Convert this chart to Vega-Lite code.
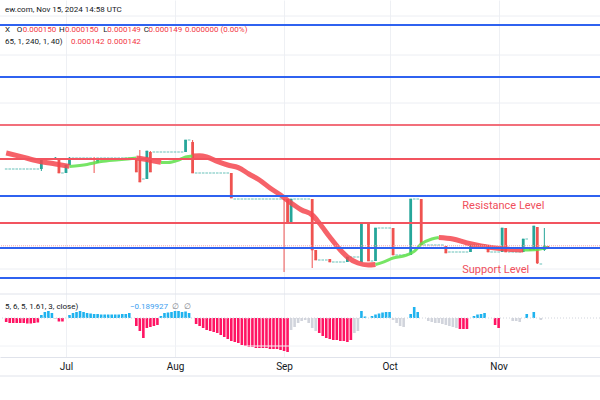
{
  "$schema": "https://vega.github.io/schema/vega-lite/v6.json",
  "autosize": {"type": "none"},
  "padding": {"left": 0, "top": 0, "right": 0, "bottom": 43},
  "background": "white",
  "width": 600,
  "height": 357,
  "config": {"view": {"stroke": null}, "font": "Roboto"},
  "resolve": {"scale": {"y": "independent"}},
  "datasets": {
    "candles": [
      {"d":"2024-06-14","o":188,"h":188,"l":188,"c":188},
      {"d":"2024-06-15","o":188,"h":188,"l":188,"c":188},
      {"d":"2024-06-16","o":188,"h":188,"l":188,"c":188},
      {"d":"2024-06-17","o":188,"h":188,"l":188,"c":188},
      {"d":"2024-06-18","o":188,"h":188,"l":188,"c":188},
      {"d":"2024-06-19","o":188,"h":188,"l":188,"c":188},
      {"d":"2024-06-20","o":188,"h":188,"l":188,"c":188},
      {"d":"2024-06-21","o":188,"h":188,"l":188,"c":188},
      {"d":"2024-06-22","o":188,"h":188,"l":188,"c":188},
      {"d":"2024-06-23","o":188,"h":188,"l":188,"c":188},
      {"d":"2024-06-24","o":188,"h":193,"l":187,"c":193},
      {"d":"2024-06-25","o":193,"h":193,"l":193,"c":193},
      {"d":"2024-06-26","o":193,"h":193,"l":193,"c":193},
      {"d":"2024-06-27","o":193,"h":193,"l":193,"c":193},
      {"d":"2024-06-28","o":193,"h":194,"l":193,"c":193.5},
      {"d":"2024-06-29","o":193.5,"h":193.5,"l":186,"c":186},
      {"d":"2024-06-30","o":186,"h":186,"l":186,"c":186},
      {"d":"2024-07-01","o":186,"h":190,"l":186,"c":190},
      {"d":"2024-07-02","o":190,"h":194,"l":190,"c":193.5},
      {"d":"2024-07-03","o":193.5,"h":193.5,"l":193.5,"c":193.5},
      {"d":"2024-07-04","o":193.5,"h":193.5,"l":193.5,"c":193.5},
      {"d":"2024-07-05","o":193.5,"h":193.5,"l":193.5,"c":193.5},
      {"d":"2024-07-06","o":193.5,"h":193.5,"l":193.5,"c":193.5},
      {"d":"2024-07-07","o":193.5,"h":193.5,"l":193.5,"c":193.5},
      {"d":"2024-07-08","o":193.5,"h":193.5,"l":193.5,"c":193.5},
      {"d":"2024-07-09","o":193.5,"h":194,"l":186,"c":193},
      {"d":"2024-07-10","o":191,"h":193.5,"l":191,"c":193.5},
      {"d":"2024-07-11","o":193.5,"h":193.5,"l":193.5,"c":193.5},
      {"d":"2024-07-12","o":193.5,"h":193.5,"l":193.5,"c":193.5},
      {"d":"2024-07-13","o":193.5,"h":193.5,"l":193.5,"c":193.5},
      {"d":"2024-07-14","o":193.5,"h":193.5,"l":193.5,"c":193.5},
      {"d":"2024-07-15","o":193.5,"h":193.5,"l":193.5,"c":193.5},
      {"d":"2024-07-16","o":193.5,"h":193.5,"l":193.5,"c":193.5},
      {"d":"2024-07-17","o":193.5,"h":193.5,"l":193.5,"c":193.5},
      {"d":"2024-07-18","o":193.5,"h":193.5,"l":193.5,"c":193.5},
      {"d":"2024-07-19","o":193.5,"h":193.5,"l":193.5,"c":193.5},
      {"d":"2024-07-20","o":193.5,"h":193.5,"l":193.5,"c":193.5},
      {"d":"2024-07-21","o":193.5,"h":193.5,"l":186.5,"c":186.5},
      {"d":"2024-07-22","o":193.5,"h":197.5,"l":181.5,"c":181.5},
      {"d":"2024-07-23","o":183,"h":183,"l":183,"c":183},
      {"d":"2024-07-24","o":183,"h":197,"l":183,"c":197},
      {"d":"2024-07-25","o":196.5,"h":197,"l":186.5,"c":186.5},
      {"d":"2024-07-26","o":196.5,"h":196.5,"l":196.5,"c":196.5},
      {"d":"2024-07-27","o":196.5,"h":196.5,"l":196.5,"c":196.5},
      {"d":"2024-07-28","o":196.5,"h":196.5,"l":196.5,"c":196.5},
      {"d":"2024-07-29","o":196.5,"h":196.5,"l":196.5,"c":196.5},
      {"d":"2024-07-30","o":196.5,"h":196.5,"l":196.5,"c":196.5},
      {"d":"2024-07-31","o":196.5,"h":196.5,"l":196.5,"c":196.5},
      {"d":"2024-08-01","o":196.5,"h":196.5,"l":196.5,"c":196.5},
      {"d":"2024-08-02","o":196.5,"h":196.5,"l":196.5,"c":196.5},
      {"d":"2024-08-03","o":196.5,"h":196.5,"l":196.5,"c":196.5},
      {"d":"2024-08-04","o":196.5,"h":202.5,"l":196.5,"c":202.5},
      {"d":"2024-08-05","o":202.5,"h":202.5,"l":202.5,"c":202.5},
      {"d":"2024-08-06","o":201.5,"h":202.5,"l":186,"c":186},
      {"d":"2024-08-07","o":186,"h":186,"l":186,"c":186},
      {"d":"2024-08-08","o":186,"h":186,"l":186,"c":186},
      {"d":"2024-08-09","o":186,"h":186,"l":186,"c":186},
      {"d":"2024-08-10","o":186,"h":186,"l":186,"c":186},
      {"d":"2024-08-11","o":186,"h":186,"l":186,"c":186},
      {"d":"2024-08-12","o":186,"h":186,"l":186,"c":186},
      {"d":"2024-08-13","o":186,"h":186,"l":186,"c":186},
      {"d":"2024-08-14","o":186,"h":186,"l":186,"c":186},
      {"d":"2024-08-15","o":186,"h":186,"l":186,"c":186},
      {"d":"2024-08-16","o":186,"h":186,"l":186,"c":186},
      {"d":"2024-08-17","o":186,"h":186,"l":173.5,"c":173.5},
      {"d":"2024-08-18","o":173,"h":173,"l":173,"c":173},
      {"d":"2024-08-19","o":173,"h":173,"l":173,"c":173},
      {"d":"2024-08-20","o":173,"h":173,"l":173,"c":173},
      {"d":"2024-08-21","o":173,"h":173,"l":173,"c":173},
      {"d":"2024-08-22","o":173,"h":173,"l":173,"c":173},
      {"d":"2024-08-23","o":173,"h":173,"l":173,"c":173},
      {"d":"2024-08-24","o":173,"h":173,"l":173,"c":173},
      {"d":"2024-08-25","o":173,"h":173,"l":173,"c":173},
      {"d":"2024-08-26","o":173,"h":173,"l":173,"c":173},
      {"d":"2024-08-27","o":173,"h":173,"l":173,"c":173},
      {"d":"2024-08-28","o":173,"h":173,"l":173,"c":173},
      {"d":"2024-08-29","o":173,"h":173,"l":173,"c":173},
      {"d":"2024-08-30","o":173,"h":173,"l":173,"c":173},
      {"d":"2024-08-31","o":173,"h":173,"l":173,"c":173},
      {"d":"2024-09-01","o":173,"h":173,"l":136.5,"c":172.8},
      {"d":"2024-09-02","o":173,"h":173,"l":161,"c":161},
      {"d":"2024-09-03","o":161,"h":173,"l":161,"c":173},
      {"d":"2024-09-04","o":173,"h":173,"l":173,"c":173},
      {"d":"2024-09-05","o":173,"h":173,"l":173,"c":173},
      {"d":"2024-09-06","o":173,"h":173,"l":173,"c":173},
      {"d":"2024-09-07","o":173,"h":173,"l":173,"c":173},
      {"d":"2024-09-08","o":173,"h":173,"l":173,"c":173},
      {"d":"2024-09-09","o":173,"h":173,"l":138.5,"c":147.5},
      {"d":"2024-09-10","o":147.5,"h":147.5,"l":142.5,"c":142.5},
      {"d":"2024-09-11","o":142.5,"h":142.5,"l":142.5,"c":142.5},
      {"d":"2024-09-12","o":142.5,"h":142.5,"l":142.5,"c":142.5},
      {"d":"2024-09-13","o":142.5,"h":142.5,"l":142.5,"c":142.5},
      {"d":"2024-09-14","o":143,"h":143,"l":141.5,"c":141.5},
      {"d":"2024-09-15","o":141.5,"h":141.5,"l":141.5,"c":141.5},
      {"d":"2024-09-16","o":141.5,"h":141.5,"l":141.5,"c":141.5},
      {"d":"2024-09-17","o":141.5,"h":141.5,"l":141.5,"c":141.5},
      {"d":"2024-09-18","o":141.5,"h":141.5,"l":141.5,"c":141.5},
      {"d":"2024-09-19","o":141.5,"h":144,"l":141.5,"c":144},
      {"d":"2024-09-20","o":144,"h":144,"l":144,"c":144},
      {"d":"2024-09-21","o":144,"h":144,"l":144,"c":144},
      {"d":"2024-09-22","o":144,"h":144,"l":144,"c":144},
      {"d":"2024-09-23","o":141.5,"h":161,"l":141.5,"c":161},
      {"d":"2024-09-24","o":161,"h":161,"l":161,"c":161},
      {"d":"2024-09-25","o":161,"h":161,"l":142,"c":142},
      {"d":"2024-09-26","o":142,"h":142,"l":142,"c":142},
      {"d":"2024-09-27","o":142,"h":158.5,"l":142,"c":158.5},
      {"d":"2024-09-28","o":158.5,"h":158.5,"l":158.5,"c":158.5},
      {"d":"2024-09-29","o":158.5,"h":158.5,"l":158.5,"c":158.5},
      {"d":"2024-09-30","o":158.5,"h":158.5,"l":158.5,"c":158.5},
      {"d":"2024-10-01","o":158.5,"h":158.5,"l":158.5,"c":158.5},
      {"d":"2024-10-02","o":158.5,"h":158.5,"l":145,"c":145},
      {"d":"2024-10-03","o":145,"h":145,"l":145,"c":145},
      {"d":"2024-10-04","o":145,"h":145,"l":145,"c":145},
      {"d":"2024-10-05","o":145,"h":145,"l":145,"c":145},
      {"d":"2024-10-06","o":145,"h":145,"l":145,"c":145},
      {"d":"2024-10-07","o":145,"h":173,"l":145,"c":173},
      {"d":"2024-10-08","o":173,"h":173,"l":173,"c":173},
      {"d":"2024-10-09","o":173,"h":173,"l":173,"c":173},
      {"d":"2024-10-10","o":173,"h":173,"l":150,"c":150},
      {"d":"2024-10-11","o":150,"h":150,"l":150,"c":150},
      {"d":"2024-10-12","o":150,"h":150,"l":150,"c":150},
      {"d":"2024-10-13","o":150,"h":150,"l":150,"c":150},
      {"d":"2024-10-14","o":150,"h":150,"l":150,"c":150},
      {"d":"2024-10-15","o":150,"h":150,"l":150,"c":150},
      {"d":"2024-10-16","o":150,"h":150,"l":150,"c":150},
      {"d":"2024-10-17","o":149.5,"h":149.5,"l":146,"c":146},
      {"d":"2024-10-18","o":146.5,"h":146.5,"l":146.5,"c":146.5},
      {"d":"2024-10-19","o":146.5,"h":146.5,"l":146.5,"c":146.5},
      {"d":"2024-10-20","o":146.5,"h":146.5,"l":146.5,"c":146.5},
      {"d":"2024-10-21","o":146.5,"h":146.5,"l":146.5,"c":146.5},
      {"d":"2024-10-22","o":146.5,"h":146.5,"l":146.5,"c":146.5},
      {"d":"2024-10-23","o":146.5,"h":146.5,"l":146.5,"c":146.5},
      {"d":"2024-10-24","o":146.5,"h":150,"l":146.5,"c":150},
      {"d":"2024-10-25","o":150,"h":150,"l":150,"c":150},
      {"d":"2024-10-26","o":150,"h":150,"l":150,"c":150},
      {"d":"2024-10-27","o":150,"h":150,"l":150,"c":150},
      {"d":"2024-10-28","o":150,"h":150,"l":150,"c":150},
      {"d":"2024-10-29","o":150,"h":150,"l":146.5,"c":146.5},
      {"d":"2024-10-30","o":146.5,"h":146.5,"l":146.5,"c":146.5},
      {"d":"2024-10-31","o":146.5,"h":146.5,"l":146.5,"c":146.5},
      {"d":"2024-11-01","o":146.5,"h":146.5,"l":146.5,"c":146.5},
      {"d":"2024-11-02","o":146.5,"h":158.5,"l":146.5,"c":158.5},
      {"d":"2024-11-03","o":158.5,"h":158.5,"l":146.5,"c":146.5},
      {"d":"2024-11-04","o":146.5,"h":146.5,"l":146.5,"c":146.5},
      {"d":"2024-11-05","o":146.5,"h":146.5,"l":146.5,"c":146.5},
      {"d":"2024-11-06","o":146.5,"h":146.5,"l":146.5,"c":146.5},
      {"d":"2024-11-07","o":146.5,"h":146.5,"l":146.5,"c":146.5},
      {"d":"2024-11-08","o":146.5,"h":153,"l":146.5,"c":153},
      {"d":"2024-11-09","o":153,"h":153,"l":153,"c":153},
      {"d":"2024-11-10","o":148.5,"h":148.5,"l":147.5,"c":147.5},
      {"d":"2024-11-11","o":147.5,"h":159.5,"l":147.5,"c":159.5},
      {"d":"2024-11-12","o":159,"h":159,"l":140.5,"c":141},
      {"d":"2024-11-13","o":140.5,"h":140.5,"l":140.5,"c":140.5},
      {"d":"2024-11-14","o":147.5,"h":158.5,"l":147,"c":149.5},
      {"d":"2024-11-15","o":149.5,"h":149.5,"l":149,"c":149}
    ],
    "ma": [
      {"d":"2024-06-14","p":196,"s":"A","t":"r"},
      {"d":"2024-06-18","p":194.3,"s":"A","t":"r"},
      {"d":"2024-06-23","p":192,"s":"A","t":"r"},
      {"d":"2024-06-28","p":190.5,"s":"A","t":"r"},
      {"d":"2024-07-02","p":189.3,"s":"A","t":"r"},
      {"d":"2024-07-02","p":189.3,"s":"B","t":"g"},
      {"d":"2024-07-07","p":190.3,"s":"B","t":"g"},
      {"d":"2024-07-11","p":191.7,"s":"B","t":"g"},
      {"d":"2024-07-16","p":192.6,"s":"B","t":"g"},
      {"d":"2024-07-21","p":193.5,"s":"B","t":"g"},
      {"d":"2024-07-21","p":193.5,"s":"C","t":"r"},
      {"d":"2024-07-23","p":193,"s":"C","t":"r"},
      {"d":"2024-07-26","p":192,"s":"C","t":"r"},
      {"d":"2024-07-28","p":191.3,"s":"C","t":"r"},
      {"d":"2024-07-28","p":191.3,"s":"D","t":"g"},
      {"d":"2024-07-30","p":191.2,"s":"D","t":"g"},
      {"d":"2024-08-02","p":192.5,"s":"D","t":"g"},
      {"d":"2024-08-04","p":194,"s":"D","t":"g"},
      {"d":"2024-08-06","p":194.5,"s":"D","t":"g"},
      {"d":"2024-08-06","p":194.5,"s":"E","t":"r"},
      {"d":"2024-08-08","p":194.6,"s":"E","t":"r"},
      {"d":"2024-08-10","p":194,"s":"E","t":"r"},
      {"d":"2024-08-13","p":191.8,"s":"E","t":"r"},
      {"d":"2024-08-16","p":190,"s":"E","t":"r"},
      {"d":"2024-08-19","p":188.7,"s":"E","t":"r"},
      {"d":"2024-08-22","p":185.5,"s":"E","t":"r"},
      {"d":"2024-08-25","p":182.5,"s":"E","t":"r"},
      {"d":"2024-08-28","p":178.5,"s":"E","t":"r"},
      {"d":"2024-08-31","p":175,"s":"E","t":"r"},
      {"d":"2024-09-03","p":171,"s":"E","t":"r"},
      {"d":"2024-09-06","p":167.5,"s":"E","t":"r"},
      {"d":"2024-09-09","p":165,"s":"E","t":"r"},
      {"d":"2024-09-11","p":161,"s":"E","t":"r"},
      {"d":"2024-09-14","p":154,"s":"E","t":"r"},
      {"d":"2024-09-17","p":147.5,"s":"E","t":"r"},
      {"d":"2024-09-19","p":144,"s":"E","t":"r"},
      {"d":"2024-09-22","p":141,"s":"E","t":"r"},
      {"d":"2024-09-25","p":140,"s":"E","t":"r"},
      {"d":"2024-09-27","p":140.25,"s":"E","t":"r"},
      {"d":"2024-09-27","p":140.25,"s":"F","t":"g"},
      {"d":"2024-09-29","p":141.3,"s":"F","t":"g"},
      {"d":"2024-10-02","p":143.5,"s":"F","t":"g"},
      {"d":"2024-10-05","p":144.5,"s":"F","t":"g"},
      {"d":"2024-10-08","p":146.8,"s":"F","t":"g"},
      {"d":"2024-10-10","p":150.5,"s":"F","t":"g"},
      {"d":"2024-10-13","p":153,"s":"F","t":"g"},
      {"d":"2024-10-15","p":153.75,"s":"F","t":"g"},
      {"d":"2024-10-15","p":153.75,"s":"G","t":"r"},
      {"d":"2024-10-19","p":153,"s":"G","t":"r"},
      {"d":"2024-10-23","p":151,"s":"G","t":"r"},
      {"d":"2024-10-27","p":149.5,"s":"G","t":"r"},
      {"d":"2024-10-31","p":148.5,"s":"G","t":"r"},
      {"d":"2024-11-05","p":147.75,"s":"G","t":"r"},
      {"d":"2024-11-08","p":147.5,"s":"G","t":"r"},
      {"d":"2024-11-08","p":147.5,"s":"H","t":"g"},
      {"d":"2024-11-12","p":147.75,"s":"H","t":"g"},
      {"d":"2024-11-14","p":148.5,"s":"H","t":"g"},
      {"d":"2024-11-15","p":148.7,"s":"H","t":"g"}
    ],
    "osc": [
      {"d":"2024-06-14","v":-0.04,"k":"r"},
      {"d":"2024-06-15","v":-0.05,"k":"r"},
      {"d":"2024-06-16","v":-0.05,"k":"r"},
      {"d":"2024-06-17","v":-0.05,"k":"r"},
      {"d":"2024-06-18","v":-0.05,"k":"r"},
      {"d":"2024-06-19","v":-0.05,"k":"r"},
      {"d":"2024-06-20","v":-0.055,"k":"r"},
      {"d":"2024-06-21","v":-0.055,"k":"r"},
      {"d":"2024-06-22","v":-0.05,"k":"r"},
      {"d":"2024-06-23","v":-0.045,"k":"r"},
      {"d":"2024-06-24","v":0.03,"k":"b"},
      {"d":"2024-06-25","v":0.06,"k":"b"},
      {"d":"2024-06-26","v":0.07,"k":"b"},
      {"d":"2024-06-27","v":0.05,"k":"b"},
      {"d":"2024-06-28","v":-0.01,"k":"g"},
      {"d":"2024-06-29","v":-0.035,"k":"r"},
      {"d":"2024-06-30","v":-0.035,"k":"r"},
      {"d":"2024-07-02","v":0.03,"k":"b"},
      {"d":"2024-07-03","v":0.05,"k":"b"},
      {"d":"2024-07-04","v":0.06,"k":"b"},
      {"d":"2024-07-05","v":0.07,"k":"b"},
      {"d":"2024-07-06","v":0.06,"k":"b"},
      {"d":"2024-07-07","v":0.05,"k":"b"},
      {"d":"2024-07-08","v":0.045,"k":"b"},
      {"d":"2024-07-09","v":0.04,"k":"b"},
      {"d":"2024-07-10","v":0.04,"k":"b"},
      {"d":"2024-07-11","v":0.035,"k":"b"},
      {"d":"2024-07-12","v":0.035,"k":"b"},
      {"d":"2024-07-13","v":0.035,"k":"b"},
      {"d":"2024-07-14","v":0.035,"k":"b"},
      {"d":"2024-07-15","v":0.035,"k":"b"},
      {"d":"2024-07-16","v":0.035,"k":"b"},
      {"d":"2024-07-17","v":0.04,"k":"b"},
      {"d":"2024-07-18","v":0.04,"k":"b"},
      {"d":"2024-07-19","v":0.05,"k":"b"},
      {"d":"2024-07-21","v":-0.08,"k":"r"},
      {"d":"2024-07-22","v":-0.13,"k":"r"},
      {"d":"2024-07-23","v":-0.2,"k":"r"},
      {"d":"2024-07-24","v":-0.1,"k":"r"},
      {"d":"2024-07-25","v":-0.09,"k":"r"},
      {"d":"2024-07-26","v":-0.08,"k":"r"},
      {"d":"2024-07-27","v":-0.07,"k":"r"},
      {"d":"2024-07-28","v":0.02,"k":"b"},
      {"d":"2024-07-29","v":0.05,"k":"b"},
      {"d":"2024-07-30","v":0.055,"k":"b"},
      {"d":"2024-07-31","v":0.06,"k":"b"},
      {"d":"2024-08-01","v":0.07,"k":"b"},
      {"d":"2024-08-02","v":0.07,"k":"b"},
      {"d":"2024-08-03","v":0.06,"k":"b"},
      {"d":"2024-08-04","v":0.065,"k":"b"},
      {"d":"2024-08-05","v":0.05,"k":"b"},
      {"d":"2024-08-07","v":-0.06,"k":"r"},
      {"d":"2024-08-08","v":-0.08,"k":"r"},
      {"d":"2024-08-09","v":-0.1,"k":"r"},
      {"d":"2024-08-10","v":-0.12,"k":"r"},
      {"d":"2024-08-11","v":-0.13,"k":"r"},
      {"d":"2024-08-12","v":-0.14,"k":"r"},
      {"d":"2024-08-13","v":-0.15,"k":"r"},
      {"d":"2024-08-14","v":-0.17,"k":"r"},
      {"d":"2024-08-15","v":-0.19,"k":"r"},
      {"d":"2024-08-16","v":-0.21,"k":"r"},
      {"d":"2024-08-17","v":-0.23,"k":"r"},
      {"d":"2024-08-18","v":-0.24,"k":"r"},
      {"d":"2024-08-19","v":-0.25,"k":"r"},
      {"d":"2024-08-20","v":-0.27,"k":"r"},
      {"d":"2024-08-21","v":-0.28,"k":"r"},
      {"d":"2024-08-22","v":-0.29,"k":"r"},
      {"d":"2024-08-23","v":-0.29,"k":"r"},
      {"d":"2024-08-24","v":-0.3,"k":"r"},
      {"d":"2024-08-25","v":-0.3,"k":"r"},
      {"d":"2024-08-26","v":-0.3,"k":"r"},
      {"d":"2024-08-27","v":-0.3,"k":"r"},
      {"d":"2024-08-28","v":-0.31,"k":"r"},
      {"d":"2024-08-29","v":-0.31,"k":"r"},
      {"d":"2024-08-30","v":-0.31,"k":"r"},
      {"d":"2024-08-31","v":-0.32,"k":"r"},
      {"d":"2024-09-01","v":-0.33,"k":"r"},
      {"d":"2024-09-02","v":-0.34,"k":"r"},
      {"d":"2024-09-03","v":-0.12,"k":"g"},
      {"d":"2024-09-04","v":-0.09,"k":"g"},
      {"d":"2024-09-05","v":-0.05,"k":"g"},
      {"d":"2024-09-06","v":-0.03,"k":"g"},
      {"d":"2024-09-07","v":-0.02,"k":"g"},
      {"d":"2024-09-08","v":-0.05,"k":"g"},
      {"d":"2024-09-09","v":-0.1,"k":"g"},
      {"d":"2024-09-10","v":-0.13,"k":"g"},
      {"d":"2024-09-11","v":-0.15,"k":"r"},
      {"d":"2024-09-12","v":-0.18,"k":"r"},
      {"d":"2024-09-13","v":-0.2,"k":"r"},
      {"d":"2024-09-14","v":-0.21,"k":"r"},
      {"d":"2024-09-15","v":-0.22,"k":"r"},
      {"d":"2024-09-16","v":-0.22,"k":"r"},
      {"d":"2024-09-17","v":-0.23,"k":"r"},
      {"d":"2024-09-18","v":-0.23,"k":"r"},
      {"d":"2024-09-19","v":-0.24,"k":"r"},
      {"d":"2024-09-20","v":-0.22,"k":"r"},
      {"d":"2024-09-21","v":-0.15,"k":"g"},
      {"d":"2024-09-22","v":-0.13,"k":"g"},
      {"d":"2024-09-23","v":0.07,"k":"b"},
      {"d":"2024-09-24","v":0.015,"k":"b"},
      {"d":"2024-09-26","v":0.02,"k":"b"},
      {"d":"2024-09-27","v":0.035,"k":"b"},
      {"d":"2024-09-28","v":0.045,"k":"b"},
      {"d":"2024-09-29","v":0.055,"k":"b"},
      {"d":"2024-09-30","v":0.06,"k":"b"},
      {"d":"2024-10-01","v":0.06,"k":"b"},
      {"d":"2024-10-02","v":-0.02,"k":"g"},
      {"d":"2024-10-03","v":-0.05,"k":"g"},
      {"d":"2024-10-04","v":-0.08,"k":"g"},
      {"d":"2024-10-05","v":-0.09,"k":"g"},
      {"d":"2024-10-07","v":0.04,"k":"b"},
      {"d":"2024-10-08","v":0.11,"k":"b"},
      {"d":"2024-10-09","v":0.06,"k":"b"},
      {"d":"2024-10-12","v":-0.03,"k":"g"},
      {"d":"2024-10-13","v":-0.04,"k":"g"},
      {"d":"2024-10-14","v":-0.05,"k":"g"},
      {"d":"2024-10-15","v":-0.05,"k":"g"},
      {"d":"2024-10-16","v":-0.06,"k":"g"},
      {"d":"2024-10-17","v":-0.07,"k":"g"},
      {"d":"2024-10-18","v":-0.08,"k":"g"},
      {"d":"2024-10-19","v":-0.09,"k":"g"},
      {"d":"2024-10-20","v":-0.1,"k":"g"},
      {"d":"2024-10-21","v":-0.11,"k":"r"},
      {"d":"2024-10-22","v":-0.11,"k":"r"},
      {"d":"2024-10-23","v":-0.11,"k":"r"},
      {"d":"2024-10-25","v":0.02,"k":"b"},
      {"d":"2024-10-26","v":0.035,"k":"b"},
      {"d":"2024-10-27","v":0.04,"k":"b"},
      {"d":"2024-10-28","v":0.05,"k":"b"},
      {"d":"2024-10-31","v":-0.07,"k":"r"},
      {"d":"2024-11-01","v":-0.1,"k":"r"},
      {"d":"2024-11-05","v":-0.03,"k":"g"},
      {"d":"2024-11-06","v":-0.03,"k":"g"},
      {"d":"2024-11-07","v":-0.04,"k":"g"},
      {"d":"2024-11-09","v":0.04,"k":"b"},
      {"d":"2024-11-11","v":0.06,"k":"b"},
      {"d":"2024-11-13","v":-0.02,"k":"g"}
    ],
    "levels": [
      {"p":260,"k":"b"},
      {"p":234,"k":"b"},
      {"p":210,"k":"r1"},
      {"p":193,"k":"r"},
      {"p":174.5,"k":"b"},
      {"p":161,"k":"r"},
      {"p":148.5,"k":"b"},
      {"p":133.5,"k":"b"}
    ],
    "hgrid": [{"p":264.5},{"p":245},{"p":221},{"p":138}],
    "pline": [{"p":149.6}],
    "txt": [
      {"d":"2024-06-13T16:00:00Z","p":267.75,"t":"ew.com, Nov 15, 2024 14:58 UTC","c":"k"},
      {"d":"2024-06-13T16:00:00Z","p":257.75,"t":"X","c":"k"},
      {"d":"2024-06-17T00:30:00Z","p":257.75,"t":"O","c":"k"},
      {"d":"2024-06-18T16:48:00Z","p":257.75,"t":"0.000150","c":"r"},
      {"d":"2024-06-29T01:00:00Z","p":257.75,"t":"H","c":"k"},
      {"d":"2024-06-30T17:18:00Z","p":257.75,"t":"0.000150","c":"r"},
      {"d":"2024-07-11T15:00:00Z","p":257.75,"t":"L","c":"k"},
      {"d":"2024-07-12T17:54:00Z","p":257.75,"t":"0.000149","c":"r"},
      {"d":"2024-07-23T02:00:00Z","p":257.75,"t":"C","c":"k"},
      {"d":"2024-07-24T11:42:00Z","p":257.75,"t":"0.000149","c":"r"},
      {"d":"2024-08-03T19:54:00Z","p":257.75,"t":"0.000000 (0.00%)","c":"r"},
      {"d":"2024-06-13T16:00:00Z","p":251.5,"t":"65, 1, 240, 1, 40)","c":"k"},
      {"d":"2024-07-02T09:36:00Z","p":251.5,"t":"0.000142","c":"r"},
      {"d":"2024-07-12T17:54:00Z","p":251.5,"t":"0.000142","c":"r"}
    ],
    "lbl": [
      {"d":"2024-10-21T16:00:00Z","p":169.5,"t":"Resistance Level"},
      {"d":"2024-10-21T16:00:00Z","p":137.5,"t":"Support Level"}
    ],
    "orules": [
      {"v":0.24,"k":"bd"},
      {"v":-0.28,"k":"gr"},
      {"v":-0.58,"k":"bd"}
    ],
    "ozero": [{"v":0}],
    "otxt": [
      {"d":"2024-06-13T16:00:00Z","v":0.113,"t":"5, 6, 5, 1.61, 3, close)","c":"k"},
      {"d":"2024-07-19T04:12:00Z","v":0.113,"t":"−0.189927","c":"b"},
      {"d":"2024-07-31T04:42:00Z","v":0.113,"t":"∅","c":"g"},
      {"d":"2024-08-03T13:12:00Z","v":0.113,"t":"∅","c":"g"}
    ]
  },
  "layer": [
    {
      "data": {"name": "osc"},
      "mark": {"type": "bar", "width": 2.6},
      "encoding": {
        "x": {"field":"d","type":"temporal","scale":{"type":"utc","domain":[{"year":2024,"month":6,"date":13,"hours":16,"utc":true},{"year":2024,"month":11,"date":28,"hours":9,"minutes":36,"utc":true}]},"axis":{"values":[{"year":2024,"month":7,"date":1,"utc":true},{"year":2024,"month":8,"date":1,"utc":true},{"year":2024,"month":9,"date":1,"utc":true},{"year":2024,"month":10,"date":1,"utc":true},{"year":2024,"month":11,"date":1,"utc":true}],"labelExpr":"utcFormat(datum.value, '%b')","ticks":false,"domain":true,"domainColor":"#e0e3eb","grid":true,"gridColor":"#eef0f4","labelFontSize":10,"labelFont":"Roboto","labelColor":"#131722","labelPadding":4,"labelFlush":false,"title":null}},
        "y": {"field":"v","type":"quantitative","scale":{"domain":[-0.39,3.18],"zero":false,"nice":false},"axis":null},
        "color": {"condition": [{"test": "datum.k == 'b'", "value": "#1fb3ef"}, {"test": "datum.k == 'r'", "value": "#ff1463"}], "value": "#d1d4dc"}
      }
    },
    {
      "data": {"name": "orules"},
      "mark": {"type": "rule", "strokeWidth": 1, "clip": false},
      "encoding": {
        "y": {"field":"v","type":"quantitative","scale":{"domain":[-0.39,3.18],"zero":false,"nice":false},"axis":null},
        "color": {"condition": {"test": "datum.k == 'bd'", "value": "#e0e3eb"}, "value": "#f0f2f6"}
      }
    },
    {
      "data": {"name": "ozero"},
      "mark": {"type": "rule", "strokeWidth": 1, "strokeDash": [1, 2], "color": "#d1d4dc"},
      "encoding": {"y": {"field":"v","type":"quantitative","scale":{"domain":[-0.39,3.18],"zero":false,"nice":false},"axis":null}}
    },
    {
      "data": {"name": "otxt"},
      "mark": {"type": "text", "align": "left", "baseline": "middle", "fontSize": 8, "font": "Roboto"},
      "encoding": {
        "x": {"field":"d","type":"temporal"},
        "y": {"field":"v","type":"quantitative","scale":{"domain":[-0.39,3.18],"zero":false,"nice":false},"axis":null},
        "text": {"field":"t"},
        "color": {"condition": [{"test": "datum.c == 'b'", "value": "#3d9ef0"}, {"test": "datum.c == 'g'", "value": "#787b86"}], "value": "#131722"}
      }
    },
    {
      "data": {"name": "hgrid"},
      "mark": {"type": "rule", "color": "#eceef3", "strokeWidth": 1},
      "encoding": {"y": {"field":"p","type":"quantitative","scale":{"domain":[94,272.5],"zero":false,"nice":false},"axis":null}}
    },
    {
      "data": {"name": "candles"},
      "mark": {"type": "rule", "strokeWidth": 1},
      "encoding": {
        "x": {"field":"d","type":"temporal"},
        "y": {"field":"l","type":"quantitative","scale":{"domain":[94,272.5],"zero":false,"nice":false},"axis":null},
        "y2": {"field":"h"},
        "color": {"condition": {"test": "datum.c < datum.o", "value": "#ef5350"}, "value": "#26a69a"}
      }
    },
    {
      "data": {"name": "candles"},
      "mark": {"type": "bar", "width": 2.8},
      "encoding": {
        "x": {"field":"d","type":"temporal"},
        "y": {"field":"o","type":"quantitative","scale":{"domain":[94,272.5],"zero":false,"nice":false},"axis":null},
        "y2": {"field":"c"},
        "color": {"condition": {"test": "datum.c < datum.o", "value": "#ef5350"}, "value": "#26a69a"}
      }
    },
    {
      "data": {"name": "candles"},
      "mark": {"type": "tick", "orient": "horizontal", "thickness": 1, "size": 2.6},
      "encoding": {
        "x": {"field":"d","type":"temporal"},
        "y": {"field":"c","type":"quantitative","scale":{"domain":[94,272.5],"zero":false,"nice":false},"axis":null},
        "color": {"condition": {"test": "datum.c < datum.o", "value": "#ef5350"}, "value": "#26a69a"}
      }
    },
    {
      "data": {"name": "ma"},
      "mark": {"type": "line", "interpolate": "monotone", "opacity": 0.85},
      "encoding": {
        "x": {"field":"d","type":"temporal"},
        "y": {"field":"p","type":"quantitative","scale":{"domain":[94,272.5],"zero":false,"nice":false},"axis":null},
        "detail": {"field":"s"},
        "color": {"condition": {"test": "datum.t == 'g'", "value": "#5fe04a"}, "value": "#f4474f"},
        "strokeWidth": {"condition": {"test": "datum.t == 'g'", "value": 3}, "value": 5}
      }
    },
    {
      "data": {"name": "pline"},
      "mark": {"type": "rule", "color": "#f4a3ab", "strokeWidth": 1, "strokeDash": [1, 1]},
      "encoding": {"y": {"field":"p","type":"quantitative","scale":{"domain":[94,272.5],"zero":false,"nice":false},"axis":null}}
    },
    {
      "data": {"name": "levels"},
      "mark": {"type": "rule", "strokeWidth": 2},
      "encoding": {
        "y": {"field":"p","type":"quantitative","scale":{"domain":[94,272.5],"zero":false,"nice":false},"axis":null},
        "color": {"condition": [{"test": "datum.k == 'b'", "value": "#2f62f0"}, {"test": "datum.k == 'r1'", "value": "#f26f7b"}], "value": "#f2545f"}
      }
    },
    {
      "data": {"name": "txt"},
      "mark": {"type": "text", "align": "left", "baseline": "middle", "fontSize": 8, "font": "Roboto"},
      "encoding": {
        "x": {"field":"d","type":"temporal"},
        "y": {"field":"p","type":"quantitative","scale":{"domain":[94,272.5],"zero":false,"nice":false},"axis":null},
        "text": {"field":"t"},
        "color": {"condition": {"test": "datum.c == 'r'", "value": "#f23645"}, "value": "#131722"}
      }
    },
    {
      "data": {"name": "lbl"},
      "mark": {"type": "text", "align": "left", "baseline": "middle", "fontSize": 11, "font": "Roboto", "color": "#f04e5c"},
      "encoding": {
        "x": {"field":"d","type":"temporal"},
        "y": {"field":"p","type":"quantitative","scale":{"domain":[94,272.5],"zero":false,"nice":false},"axis":null},
        "text": {"field":"t"}
      }
    }
  ]
}
